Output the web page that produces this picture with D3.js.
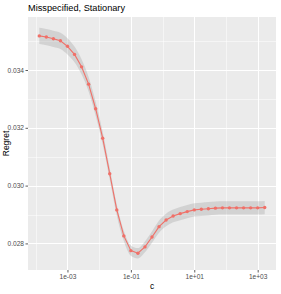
<!DOCTYPE html>
<html>
<head>
<meta charset="utf-8">
<script src="https://cdn.jsdelivr.net/npm/d3@7"></script>
<style>
  body { margin: 0; background: #fff; }
  text { font-family: "Liberation Sans", Arial, sans-serif; }
</style>
</head>
<body>
<div id="chart"></div>
<script>
// c values (log-spaced grid) and mean regret with its band half-width
var cValues = [1.2915e-4, 2.154e-4, 3.594e-4, 5.995e-4, 1e-3, 1.668e-3, 2.783e-3, 4.642e-3, 7.743e-3,
               1.2915e-2, 2.154e-2, 3.594e-2, 5.995e-2, 0.1, 0.1668, 0.2783, 0.4642, 0.7743,
               1.2915, 2.154, 3.594, 5.995, 10, 16.68, 27.83, 46.42, 77.43,
               129.15, 215.4, 359.4, 599.5, 1000, 1668];
var regret = [0.03518, 0.03514, 0.03508, 0.03501, 0.03482, 0.03454, 0.03411, 0.03351, 0.03266,
              0.03164, 0.03041, 0.02916, 0.02826, 0.02775, 0.02766, 0.02788, 0.02822, 0.02858,
              0.02881, 0.02895, 0.02903, 0.0291, 0.02916, 0.02918, 0.0292, 0.02922, 0.02923,
              0.02923, 0.02923, 0.02923, 0.02923, 0.02923, 0.02924];
var bandHalf = [0.00028, 0.00028, 0.00028, 0.00028, 0.00028, 0.00027, 0.00026, 0.00025, 0.00024,
                0.00022, 0.0002, 0.00019, 0.00018, 0.00018, 0.00018, 0.00019, 0.0002, 0.00021,
                0.00022, 0.00022, 0.00023, 0.00023, 0.00023, 0.00023, 0.00023, 0.00023, 0.00023,
                0.00023, 0.00023, 0.00023, 0.00023, 0.00023, 0.00023];
var xTicks = [1e-3, 1e-1, 1e1, 1e3];
var xTickLabels = ["1e-03", "1e-01", "1e+01", "1e+03"];
var xMinor = [1e-4, 1e-2, 1, 100];
var yTicks = [0.028, 0.030, 0.032, 0.034];
var yMinor = [0.029, 0.031, 0.033, 0.035];

var W = 281, H = 294;
var margin = {top: 17, right: 5, bottom: 24, left: 28},
    width = W - margin.left - margin.right,
    height = H - margin.top - margin.bottom;

var svg = d3.select("#chart")
  .append("svg")
    .attr("width", W)
    .attr("height", H);

var g = svg.append("g")
    .attr("transform", "translate(" + margin.left + "," + margin.top + ")");

var data = cValues.map(function(c, i) {
  return {c: c, y: regret[i], lo: regret[i] - bandHalf[i], hi: regret[i] + bandHalf[i]};
});

var x = d3.scaleLog()
    .domain([Math.pow(10, -4.245), Math.pow(10, 3.578)])
    .range([0, width]);
var y = d3.scaleLinear()
    .domain([0.02708, 0.035834])
    .range([height, 0]);

// panel
g.append("rect")
    .attr("width", width)
    .attr("height", height)
    .attr("fill", "#EBEBEB");

// minor grid
g.selectAll(".xminor").data(xMinor).enter().append("line")
    .attr("x1", function(d) { return Math.round(x(d)) + 0.5; })
    .attr("x2", function(d) { return Math.round(x(d)) + 0.5; })
    .attr("y1", 0).attr("y2", height)
    .attr("stroke", "#fff").attr("stroke-width", 0.5);
g.selectAll(".yminor").data(yMinor).enter().append("line")
    .attr("y1", function(d) { return Math.round(y(d)) + 0.5; })
    .attr("y2", function(d) { return Math.round(y(d)) + 0.5; })
    .attr("x1", 0).attr("x2", width)
    .attr("stroke", "#fff").attr("stroke-width", 0.5);

// major grid
g.selectAll(".xmajor").data(xTicks).enter().append("line")
    .attr("x1", function(d) { return Math.round(x(d)) + 0.5; })
    .attr("x2", function(d) { return Math.round(x(d)) + 0.5; })
    .attr("y1", 0).attr("y2", height)
    .attr("stroke", "#fff").attr("stroke-width", 1);
g.selectAll(".ymajor").data(yTicks).enter().append("line")
    .attr("y1", function(d) { return Math.round(y(d)) + 0.5; })
    .attr("y2", function(d) { return Math.round(y(d)) + 0.5; })
    .attr("x1", 0).attr("x2", width)
    .attr("stroke", "#fff").attr("stroke-width", 1);

// ribbon
var area = d3.area()
    .curve(d3.curveMonotoneX)
    .x(function(d) { return x(d.c); })
    .y0(function(d) { return y(d.lo); })
    .y1(function(d) { return y(d.hi); });
g.append("path")
    .datum(data)
    .attr("d", area)
    .attr("fill", "#999999")
    .attr("fill-opacity", 0.3);

// line + points
var line = d3.line()
    .x(function(d) { return x(d.c); })
    .y(function(d) { return y(d.y); });
g.append("path")
    .datum(data)
    .attr("d", line)
    .attr("fill", "none")
    .attr("stroke", "#F07068")
    .attr("stroke-width", 1.1);
g.selectAll(".pt").data(data).enter().append("circle")
    .attr("cx", function(d) { return x(d.c); })
    .attr("cy", function(d) { return y(d.y); })
    .attr("r", 1.7)
    .attr("fill", "#F07068");

// axes
var xAxis = d3.axisBottom(x)
    .tickValues(xTicks)
    .tickFormat(function(d, i) { return xTickLabels[i]; })
    .tickSize(2.5)
    .tickPadding(1.5);
var yAxis = d3.axisLeft(y)
    .tickValues(yTicks)
    .tickFormat(d3.format(".3f"))
    .tickSize(2.5)
    .tickPadding(1.5);

var gx = g.append("g")
    .attr("transform", "translate(0," + height + ")")
    .call(xAxis);
var gy = g.append("g").call(yAxis);

[gx, gy].forEach(function(ax) {
  ax.select(".domain").remove();
  ax.selectAll(".tick line").attr("stroke", "#333333").attr("stroke-width", 0.8);
  ax.selectAll(".tick text")
    .attr("fill", "#4D4D4D")
    .style("font-size", "6.6px");
});

// labels
svg.append("text")
    .attr("x", margin.left)
    .attr("y", 11)
    .text("Misspecified, Stationary")
    .style("font-size", "9.2px")
    .attr("fill", "#000");

svg.append("text")
    .attr("x", margin.left + width / 2)
    .attr("y", 289)
    .attr("text-anchor", "middle")
    .text("c")
    .style("font-size", "8.5px");

svg.append("text")
    .attr("transform", "translate(9," + (margin.top + height / 2) + ") rotate(-90)")
    .attr("text-anchor", "middle")
    .text("Regret")
    .style("font-size", "8.5px");
</script>
</body>
</html>
